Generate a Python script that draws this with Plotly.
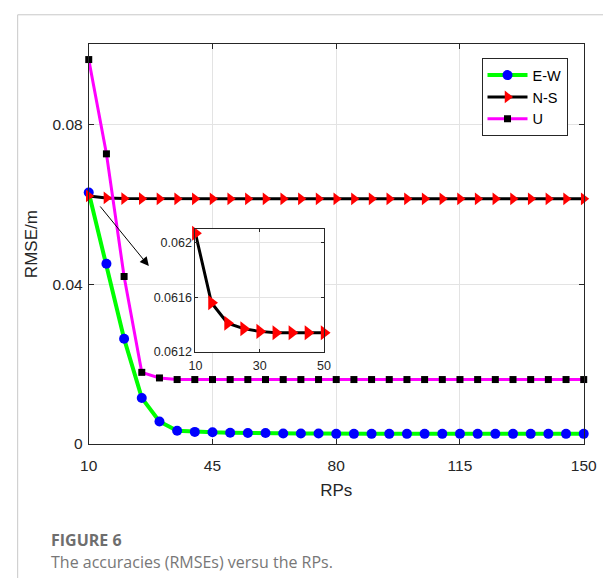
import plotly.graph_objects as go

# ---------------- data ----------------
rps = [10, 15, 20, 25, 30, 35, 40, 45, 50, 55, 60, 65, 70, 75, 80, 85, 90, 95,
       100, 105, 110, 115, 120, 125, 130, 135, 140, 145, 150]

ew = [0.0629, 0.0451, 0.0263, 0.0115, 0.0056, 0.0033, 0.0030, 0.0029, 0.0028,
      0.0027, 0.0027, 0.0026, 0.0026, 0.0026, 0.0025, 0.0025, 0.0025, 0.0025,
      0.0025, 0.0025, 0.0025, 0.0025, 0.0025, 0.0025, 0.0025, 0.0025, 0.0025,
      0.0025, 0.0025]

ns = [0.06207, 0.06156, 0.06141, 0.06137, 0.06135, 0.06134, 0.06134, 0.06134,
      0.06134, 0.06134, 0.06134, 0.06134, 0.06134, 0.06134, 0.06134, 0.06134,
      0.06134, 0.06134, 0.06134, 0.06134, 0.06134, 0.06134, 0.06134, 0.06134,
      0.06134, 0.06134, 0.06134, 0.06134, 0.06134]

u = [0.0962, 0.0726, 0.0419, 0.0179, 0.0165, 0.0161, 0.0161, 0.0161, 0.0161,
     0.0161, 0.0161, 0.0161, 0.0161, 0.0161, 0.0161, 0.0161, 0.0161, 0.0161,
     0.0161, 0.0161, 0.0161, 0.0161, 0.0161, 0.0161, 0.0161, 0.0161, 0.0161,
     0.0161, 0.0161]

x_ticks = [10, 45, 80, 115, 150]
y_ticks = [0, 0.04, 0.08]
y_tick_text = ["0", "0.04", "0.08"]

inset_n = 9  # RPs 10..50 shown in the zoomed inset
inset_x_ticks = [10, 30, 50]
inset_y_ticks = [0.0612, 0.0616, 0.062]
inset_y_text = ["0.0612", "0.0616", "0.062"]

caption_title = "FIGURE 6"
caption_text = "The accuracies (RMSEs) versu the RPs."

# ---------------- figure ----------------
W, H = 616, 586
FONT = "Liberation Sans, Arial, sans-serif"
AX = "#262626"
GRID = "#e3e3e3"

fig = go.Figure()

fig.add_trace(go.Scatter(
    x=rps, y=ew, name="E-W", mode="lines+markers",
    line=dict(color="#00ff00", width=4),
    marker=dict(symbol="circle", size=10, color="#0000ff"),
    cliponaxis=False, xaxis="x", yaxis="y"))
fig.add_trace(go.Scatter(
    x=rps, y=ns, name="N-S", mode="lines+markers",
    line=dict(color="#000000", width=3),
    marker=dict(symbol="triangle-right", size=11, color="#ff0000"),
    cliponaxis=False, xaxis="x", yaxis="y"))
fig.add_trace(go.Scatter(
    x=rps, y=u, name="U", mode="lines+markers",
    line=dict(color="#ff00ff", width=3),
    marker=dict(symbol="square", size=7, color="#000000"),
    cliponaxis=False, xaxis="x", yaxis="y"))

# inset
fig.add_trace(go.Scatter(
    x=rps[:inset_n], y=ns[:inset_n], name="N-S inset", mode="lines+markers",
    line=dict(color="#000000", width=3),
    marker=dict(symbol="triangle-right", size=13, color="#ff0000"),
    cliponaxis=False, showlegend=False, xaxis="x2", yaxis="y2"))


def px_x(p):
    return p / W


def px_y(p):
    return (H - p) / H


axis_common = dict(showline=True, linecolor=AX, linewidth=1, mirror="allticks",
                   ticks="inside", tickcolor=AX, showgrid=True, gridcolor=GRID,
                   gridwidth=1, zeroline=False,
                   tickfont=dict(family=FONT, size=15.5, color=AX))
inset_font = dict(family=FONT, size=12.5, color=AX)

fig.update_layout(
    width=W, height=H,
    margin=dict(l=0, r=0, t=0, b=0),
    paper_bgcolor="white", plot_bgcolor="white",
    font=dict(family=FONT, color=AX),
    xaxis=dict(domain=[px_x(82.7), px_x(596)], range=[10, 150],
               tickvals=x_ticks, ticklen=5, anchor="y", ticklabelstandoff=8,
               title=dict(text="RPs", font=dict(family=FONT, size=17, color=AX),
                          standoff=10),
               **axis_common),
    yaxis=dict(domain=[px_y(450), px_y(45)], range=[0, 0.1],
               tickvals=y_ticks, ticktext=y_tick_text, ticklen=5, anchor="x",
               ticklabelstandoff=2,
               title=dict(text="RMSE/m", font=dict(family=FONT, size=17, color=AX),
                          standoff=10),
               **axis_common),
    xaxis2=dict(domain=[px_x(193.3), px_x(326.7)], range=[10, 50],
                tickvals=inset_x_ticks, ticklen=3, anchor="y2", ticklabelstandoff=2,
                **{**axis_common, "tickfont": inset_font}),
    yaxis2=dict(domain=[px_y(356.7), px_y(232.3)], range=[0.0612, 0.0621],
                tickvals=inset_y_ticks, ticktext=inset_y_text, ticklen=3,
                anchor="x2",
                **{**axis_common, "tickfont": inset_font}),
    legend=dict(x=px_x(490), y=px_y(59), xanchor="left", yanchor="top",
                bgcolor="white", bordercolor=AX, borderwidth=1,
                font=dict(family=FONT, size=14.5, color="#000000"),
                tracegroupgap=0, itemwidth=40),
    showlegend=True,
)

# arrow pointing to the inset
fig.add_annotation(x=27.0, y=0.0445, ax=12.9, ay=0.0598,
                   xref="x", yref="y", axref="x", ayref="y",
                   text="", showarrow=True, arrowhead=2, arrowsize=1.8,
                   arrowwidth=1, arrowcolor="#000000")

# card border (top and left edges)
fig.add_shape(type="line", xref="paper", yref="paper",
              x0=px_x(9), y0=px_y(15), x1=1.0, y1=px_y(15),
              line=dict(color="#c8c8c8", width=1))
fig.add_shape(type="line", xref="paper", yref="paper",
              x0=px_x(9), y0=px_y(15), x1=px_x(9), y1=0.0,
              line=dict(color="#c8c8c8", width=1))

# caption
fig.add_annotation(x=px_x(41), y=px_y(547), xref="paper", yref="paper",
                   xanchor="left", yanchor="middle", showarrow=False,
                   text="<b>" + caption_title + "</b>",
                   font=dict(family="Open Sans, Noto Sans, sans-serif", size=16,
                             color="#6e6e6e"))
fig.add_annotation(x=px_x(41), y=px_y(570), xref="paper", yref="paper",
                   xanchor="left", yanchor="middle", showarrow=False,
                   text=caption_text,
                   font=dict(family="Open Sans, Noto Sans, sans-serif", size=16,
                             color="#777777"))

fig.write_html("out.html")
